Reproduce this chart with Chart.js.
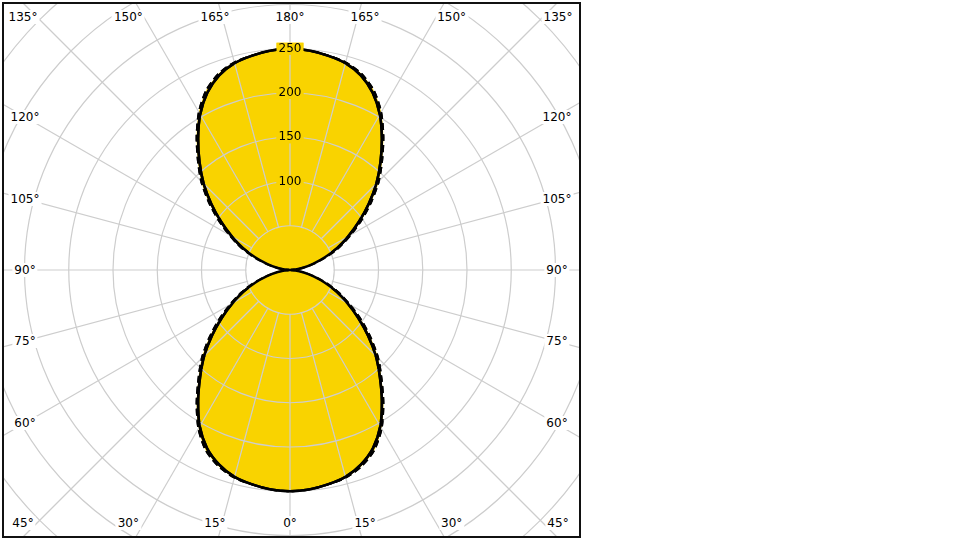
<!DOCTYPE html>
<html>
<head>
<meta charset="utf-8">
<script src="https://cdn.jsdelivr.net/npm/chart.js@4/dist/chart.umd.min.js"></script>
<style>
  body { margin: 0; background: #fff; width: 960px; height: 540px; overflow: hidden; position: relative; }
  .frame { position: absolute; left: 2px; top: 2px; width: 575px; height: 532px; border: 2px solid #111; overflow: hidden; }
  .frame canvas { position: absolute; }
  .deg { position: absolute; transform: translate(-50%, -50%); background: #fff; padding: 0 2px;
         font: 12px "DejaVu Sans", Verdana, sans-serif; line-height: 14px; color: #000; white-space: nowrap; }
</style>
</head>
<body>
<div class="frame"><canvas id="ldc" width="840" height="860"></canvas></div>
<script>
// luminous intensity (cd/klm) every 5 deg of gamma, 0 (down) .. 180 (up)
var gammaStep = 5;
var solidCurve = [250, 249, 246, 242, 234, 222, 204, 181, 158, 137, 115, 94, 75, 58, 42, 27, 15, 6,
                  0,
                  6, 15, 27, 42, 59, 76, 95, 116, 138, 159, 181, 203, 221, 234, 242, 246, 249, 250];
var dashedCurve = [250, 249, 246, 243, 236, 225, 207, 184, 161, 141, 119, 98, 78, 61, 45, 29, 16, 6,
                   0,
                   6, 16, 29, 45, 62, 79, 99, 120, 142, 162, 184, 206, 224, 236, 243, 246, 249, 250];

// ray labels clockwise from the top
var rayLabels = ['180°', '165°', '150°', '135°', '120°', '105°', '90°', '75°', '60°', '45°', '30°', '15°',
                 '0°', '15°', '30°', '45°', '60°', '75°', '90°', '105°', '120°', '135°', '150°', '165°'];
var radialTicks = [100, 150, 200, 250];

var yellow = '#F9D300';
var gridColor = '#cdcdcd';
var pxPerUnit = 0.885;

// radar runs clockwise from the top: right half is gamma 180 -> 0, left half 0 -> 180
var n = 360 / gammaStep;
var labels = [], solidR = [], dashedR = [];
for (var k = 0; k < n; k++) {
  var g = k <= n / 2 ? 180 - k * gammaStep : k * gammaStep - 180;
  labels.push(g);
  solidR.push(solidCurve[g / gammaStep]);
  dashedR.push(dashedCurve[g / gammaStep]);
}

var overlay = {
  id: 'overlay',
  afterDraw: function(chart) {
    var ctx = chart.ctx, s = chart.scales.r;
    var r0 = s.getDistanceFromCenterForValue(50) - 0.7;
    // no rays inside the first circle
    ctx.save();
    ctx.beginPath();
    ctx.arc(s.xCenter, s.yCenter, r0, 0, Math.PI * 2);
    ctx.clip();
    ctx.fillStyle = '#fff';
    ctx.fillRect(s.xCenter - r0, s.yCenter - r0, r0 * 2, r0 * 2);
    ctx.fillStyle = yellow;
    [1, 0].forEach(function(i) {
      ctx.beginPath();
      chart.getDatasetMeta(i).dataset.path(ctx);
      ctx.closePath();
      ctx.fill();
    });
    ctx.restore();
    // curves and value labels above the grid
    [1, 0].forEach(function(i) { chart.getDatasetMeta(i).controller.draw(); });
    s.drawLabels();
  }
};

var chart = new Chart(document.getElementById('ldc'), {
  type: 'radar',
  data: {
    labels: labels,
    datasets: [{
      data: solidR,
      fill: true,
      backgroundColor: yellow,
      borderColor: '#000',
      borderWidth: 2.5,
      borderJoinStyle: 'round',
      tension: 0.25,
      pointRadius: 0
    }, {
      data: dashedR,
      fill: true,
      backgroundColor: yellow,
      borderColor: '#000',
      borderWidth: 2,
      borderDash: [7, 4],
      tension: 0.25,
      pointRadius: 0
    }]
  },
  options: {
    responsive: false,
    animation: false,
    devicePixelRatio: 1,
    events: [],
    layout: { padding: 0 },
    plugins: { legend: { display: false }, tooltip: { enabled: false } },
    scales: {
      r: {
        min: 0,
        max: 450,
        startAngle: 0,
        grid: { circular: true, color: gridColor, lineWidth: 1.2, z: 1 },
        angleLines: {
          color: function(c) { return c.index % 3 === 0 ? gridColor : 'rgba(0,0,0,0)'; },
          lineWidth: 1.2
        },
        pointLabels: { display: false },
        ticks: {
          stepSize: 50,
          z: 1,
          color: '#000',
          font: { family: 'DejaVu Sans', size: 12 },
          backdropPadding: { x: 2, y: 0 },
          backdropColor: function(c) {
            return radialTicks.indexOf(c.tick.value) >= 0 ? yellow : 'rgba(0,0,0,0)';
          },
          callback: function(v) { return radialTicks.indexOf(v) >= 0 ? String(v) : ''; }
        }
      }
    }
  },
  plugins: [overlay]
});

// fix the scale so that 50 cd/klm is 0.885 px, then put the pole at (290, 270)
var sc = chart.scales.r;
chart.options.scales.r.max = sc.drawingArea / pxPerUnit;
chart.update();
sc = chart.scales.r;

var cx = 290, cy = 270;
var cv = document.getElementById('ldc');
cv.style.left = (cx - 4 - sc.xCenter) + 'px';
cv.style.top = (cy - 4 - sc.yCenter) + 'px';

// angle labels along the frame
rayLabels.forEach(function(txt, i) {
  var a = i * 15 * Math.PI / 180;
  var sx = Math.sin(a), cyv = -Math.cos(a);
  var x, y;
  if (Math.abs(cyv) >= Math.abs(sx) - 1e-6) {
    x = cx + sx / Math.abs(cyv) * 280;
    x = Math.max(23, Math.min(558, x));
    y = cyv < 0 ? 17 : 523;
  } else {
    x = sx > 0 ? 557 : 25;
    y = cy + cyv / Math.abs(sx) * 265;
  }
  var d = document.createElement('div');
  d.className = 'deg';
  d.textContent = txt;
  d.style.left = x + 'px';
  d.style.top = y + 'px';
  document.body.appendChild(d);
});
</script>
</body>
</html>
